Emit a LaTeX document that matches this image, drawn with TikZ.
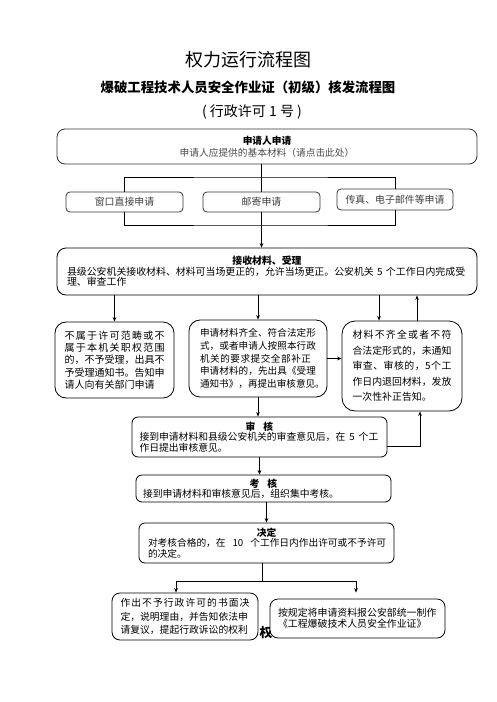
\documentclass[tikz,border=0pt]{standalone}
\usepackage{fontspec}
\setmainfont{Noto Sans CJK SC}
\usetikzlibrary{arrows.meta}
\def\jspreadA#1#2{#1\ifx\relax#2\else\hfil\expandafter\jspreadA\expandafter#2\fi}
\newcommand\jl[2]{\makebox[#1][s]{\jspreadA#2\relax}}
\begin{document}
\begin{tikzpicture}[x=1pt,y=-1pt,
  box/.style={draw=black, line width=0.8pt, fill=white, rounded corners=6pt, inner sep=0pt},
  smallbox/.style={box, draw=black!80, rounded corners=4pt, minimum width=117pt, minimum height=20pt,
    font=\fontsize{9.9pt}{10pt}\selectfont, text=black!75},
  bigbox/.style={box, rounded corners=11pt, align=left},
  txt/.style={align=left},
  link/.style={line width=0.8pt, draw=black},
  arr/.style={link, -{Stealth[length=4.5pt,width=3.6pt]}}]
\useasboundingbox[fill=white] (0,0) rectangle (496,702);

% titles
\node[font=\fontsize{18pt}{18pt}\selectfont] (t1) at (248,60) {权力运行流程图};
\node[font=\bfseries\fontsize{13.4pt}{14pt}\selectfont] (t2) at (248,87) {爆破工程技术人员安全作业证（初级）核发流程图};
\node[font=\fontsize{14pt}{14pt}\selectfont] (t3) at (252,112) {( 行政许可 1 号 )};

% box 1
\node[box, draw=black!80, rounded corners=8pt, minimum width=420pt, minimum height=35pt, align=center,
  font=\fontsize{9.7pt}{12pt}\selectfont] (b1) at (267,146.5)
  {\textbf{申请人申请}\\\textcolor{black!70}{申请人应提供的基本材料（请点击此处）}};

% boxes 2
\node[smallbox] (b2a) at (124.5,202) {窗口直接申请};
\node[smallbox] (b2b) at (261.5,202) {邮寄申请};
\node[smallbox, minimum width=116pt, minimum height=21pt] (b2c) at (395,199.5) {传真、电子邮件等申请};

% box 3
\node[box, rounded corners=9pt, minimum width=420pt, minimum height=47pt, txt, text width=400pt,
  font=\fontsize{9.9pt}{10.5pt}\selectfont] (b3) at (267,271.5)
  {\makebox[400pt]{\bfseries 接收材料、受理}\\
   \mbox{县级公安机关接收材料、材料可当场更正的，允许当场更正。公安机关 5 个工作日内完成受}\\
   理、审查工作};

% boxes 4
\node[bigbox, minimum width=119pt, minimum height=76pt, text width=100pt,
  font=\fontsize{10pt}{12.2pt}\selectfont] (b4a) at (114.5,360)
  {\jl{100pt}{不属于许可范畴或不}\\
   \jl{100pt}{属于本机关职权范围}\\
   \jl{100pt}{的，不予受理，出具不}\\
   \jl{100pt}{予受理通知书。告知申}\\
   请人向有关部门申请};
\node[bigbox, minimum width=138pt, minimum height=77pt, text width=116pt,
  font=\fontsize{9.6pt}{12.75pt}\selectfont] (b4b) at (258,358.5)
  {\jl{116pt}{申请材料齐全、符合法定形}\\
   \jl{116pt}{式，或者申请人按照本行政}\\
   \jl{111pt}{机关的要求提交全部补正}\\
   \jl{116pt}{申请材料的，先出具《受理}\\
   \mbox{通知书》，再提出审核意见。}};
\node[bigbox, rounded corners=13pt, minimum width=120pt, minimum height=90pt, text width=99pt,
  font=\fontsize{9.9pt}{15.5pt}\selectfont] (b4c) at (402,366)
  {\jl{99pt}{材料不齐全或者不符}\\
   \jl{99pt}{合法定形式的，未通知}\\
   \jl{99pt}{审查、审核的，5个工}\\
   \jl{99pt}{作日内退回材料，发放}\\
   一次性补正告知。};

% review
\node[box, minimum width=255pt, minimum height=40pt, txt, text width=240pt,
  font=\fontsize{9.8pt}{10.4pt}\selectfont] (b6) at (259.5,437)
  {\makebox[240pt]{\bfseries 审\hspace{8pt}核}\\
   \mbox{接到申请材料和县级公安机关的审查意见后，在\hspace{4pt}5\hspace{4pt}个工}\\
   作日提出审核意见。};
\node[box, minimum width=255pt, minimum height=27pt, txt, text width=241pt,
  font=\fontsize{9.8pt}{9.8pt}\selectfont] (b7) at (263.5,488.5)
  {\makebox[241pt]{\bfseries 考\hspace{8pt}核}\\
   \mbox{接到申请材料和审核意见后，组织集中考核。}};
\node[box, minimum width=255pt, minimum height=40pt, txt, text width=237pt,
  font=\fontsize{9.7pt}{10.2pt}\selectfont] (b8) at (266.5,543)
  {\makebox[237pt]{\bfseries 决定}\\
   \mbox{对考核合格的，在\hspace{7pt}10\hspace{7pt}个工作日内作出许可或不予许可}\\
   的决定。};

% hidden glyph behind the bottom boxes
\node[font=\bfseries\fontsize{13pt}{13pt}\selectfont] (hid) at (266,633) {权};

% bottom boxes
\node[box, rounded corners=8pt, minimum width=146pt, minimum height=47pt, txt, text width=129pt,
  font=\fontsize{9.8pt}{13.5pt}\selectfont] (b9) at (185,616.5)
  {\jl{129pt}{作出不予行政许可的书面决}\\
   \mbox{定，说明理由，并告知依法申}\\
   \mbox{请复议，提起行政诉讼的权利}};
\node[box, rounded corners=8pt, minimum width=175pt, minimum height=39pt, txt, text width=159pt,
  font=\fontsize{9.9pt}{11pt}\selectfont] (b10) at (357.5,618.5)
  {\mbox{按规定将申请资料报公安部统一制作}\\
   \mbox{《工程爆破技术人员安全作业证》}};

% connectors top
\coordinate (j1) at (261.5,177);
\coordinate (j2) at (261.5,225);
\draw[link] (b1.south -| j1) -- (j1);
\draw[link] (b2a.north) |- (j1) -| (b2c.north);
\draw[link] (j1) -- (b2b.north);
\draw[link] (b2a.south) |- (j2) -| (b2c.south);
\draw[link] (b2b.south) -- (j2);
\draw[arr] (j2) -- (b3.north -| j2);

% box 3 to boxes 4
\coordinate (c4l) at ([xshift=-23pt]b4c.north);
\coordinate (c4r) at ([xshift=15pt]b4c.north);
\draw[arr] (b3.south -| b4a.north) -- (b4a.north);
\draw[arr] (b3.south -| b4b.north) -- (b4b.north);
\draw[arr] (b3.south -| c4l) -- (c4l);
\draw[arr] (c4r) -- (b3.south -| c4r);
\draw[arr] (b4b.east) -- (b4b.east -| b4c.west);
\draw[arr] (b4b.south) -- (b4b.south |- b6.north);

% review to box 4c
\coordinate (c6) at ([yshift=-9pt]b6.east);
\coordinate (c4b) at ([xshift=18pt]b4c.south);
\draw[arr] (c6) -| (c4b);

\draw[arr] (b6.south) -- (b6.south |- b7.north);
\draw[arr] (b7.south -| b8.north) -- (b8.north);

% decision split
\coordinate (j3) at (262,581);
\coordinate (a9) at ([xshift=-9pt]b9.north);
\coordinate (a10) at ([xshift=-1.5pt,yshift=6pt]b10.north);
\draw[link] (b8.south -| j3) -- (j3);
\draw[arr] (j3) -| (a9);
\draw[arr] (j3) -| (a10);
\end{tikzpicture}
\end{document}
